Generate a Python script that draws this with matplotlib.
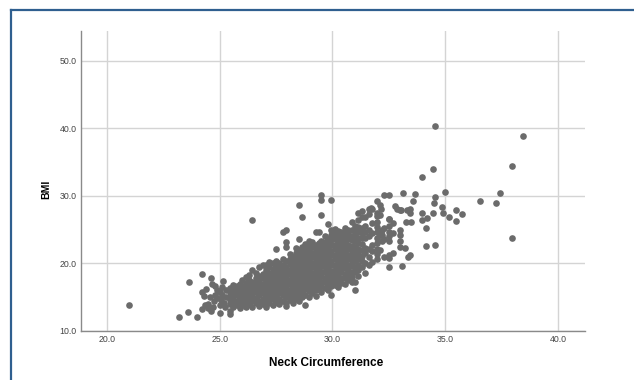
import matplotlib
matplotlib.use('Agg')
import matplotlib.pyplot as plt
from matplotlib.lines import Line2D

# --- 데이터 ---
# 왼쪽 꼬리 (neck < 25.3)
tail_pts = [(21.0, 13.9), (23.2, 12.1), (23.6, 12.8), (24.0, 12.1), (23.65, 17.2), (24.2, 18.5),
            (24.6, 17.9), (24.65, 17.0), (24.2, 15.7), (24.3, 15.2), (24.5, 13.4), (24.2, 13.2),
            (24.35, 13.9), (24.5, 14.0), (24.6, 12.9), (24.7, 13.6), (24.8, 15.4), (24.9, 16.1),
            (24.55, 15.0), (24.75, 14.4), (25.0, 12.6), (25.0, 13.9), (25.05, 14.6), (25.1, 15.3),
            (25.1, 16.5), (25.15, 17.4), (25.0, 15.8), (24.9, 14.9), (24.4, 16.2), (24.8, 16.6),
            (25.2, 14.2), (25.25, 13.5), (25.3, 15.0), (25.3, 16.0)]

# 밀집 구간: neck 값별 BMI 목록
core_a = {25.45: [12.5, 13.0, 14.0, 14.6, 15.2, 15.8, 16.4],
          25.6: [13.5, 14.3, 15.0, 15.6, 16.2, 16.8],
          25.75: [13.8, 14.5, 15.3, 16.0, 16.6],
          25.9: [13.4, 14.2, 14.9, 15.6, 16.3, 17.0],
          26.0: [13.9, 14.6, 15.3, 16.0, 16.7, 17.5],
          26.15: [13.5, 14.3, 15.0, 15.7, 16.4, 17.1, 18.0],
          26.3: [14.0, 14.8, 15.5, 16.2, 16.9, 17.6, 18.3],
          26.45: [13.6, 14.4, 15.2, 15.9, 16.6, 17.3, 19.0, 26.5],
          26.6: [14.1, 14.9, 15.7, 16.4, 17.1, 17.8, 18.6],
          26.75: [13.7, 14.5, 15.3, 16.0, 16.8, 17.5, 18.2, 19.4],
          26.9: [14.0, 14.8, 15.6, 16.3, 17.0, 17.8, 18.5, 19.8]}

core_b = {27.05: [13.6, 14.4, 15.2, 16.0, 16.7, 17.5, 18.2, 19.0, 19.8],
          27.2: [14.1, 14.9, 15.6, 16.4, 17.1, 17.9, 18.6, 19.4, 20.2],
          27.35: [13.9, 14.7, 15.5, 16.2, 17.0, 17.7, 18.5, 19.2, 20.0],
          27.5: [14.3, 15.1, 15.8, 16.6, 17.3, 18.1, 18.8, 19.6, 20.4, 22.2],
          27.65: [14.0, 14.8, 15.6, 16.3, 17.1, 17.8, 18.6, 19.3, 20.1],
          27.8: [14.5, 15.3, 16.0, 16.8, 17.5, 18.3, 19.0, 19.8, 20.6, 24.6],
          27.95: [13.7, 14.2, 15.0, 15.8, 16.5, 17.3, 18.0, 18.8, 19.5, 20.3, 22.5, 23.1, 25.0],
          28.1: [14.6, 15.4, 16.1, 16.9, 17.6, 18.4, 19.1, 19.9, 20.7, 21.4],
          28.25: [14.2, 15.0, 15.7, 16.5, 17.2, 18.0, 18.7, 19.5, 20.2, 21.0],
          28.4: [14.8, 15.6, 16.3, 17.1, 17.8, 18.6, 19.3, 20.1, 20.8, 21.6, 22.3],
          28.5: [14.5, 15.2, 16.0, 16.7, 17.5, 18.2, 19.0, 19.7, 20.5, 21.2, 22.0, 23.6, 28.6],
          28.65: [15.0, 15.8, 16.5, 17.3, 18.0, 18.8, 19.5, 20.3, 21.0, 21.8, 22.5, 26.9],
          28.8: [13.9, 15.4, 16.2, 16.9, 17.7, 18.4, 19.2, 19.9, 20.7, 21.4, 22.2, 22.9],
          28.95: [15.1, 15.9, 16.6, 17.4, 18.1, 18.9, 19.6, 20.4, 21.1, 21.9, 22.6, 23.3]}

core_c = {29.1: [15.6, 16.4, 17.1, 17.9, 18.6, 19.4, 20.1, 20.9, 21.6, 22.4, 23.1],
          29.25: [15.2, 16.0, 16.8, 17.5, 18.3, 19.0, 19.8, 20.5, 21.3, 22.0, 22.8, 24.7],
          29.4: [16.2, 17.0, 17.7, 18.5, 19.2, 20.0, 20.7, 21.5, 22.2, 23.0, 24.7],
          29.5: [15.8, 16.6, 17.3, 18.1, 18.8, 19.6, 20.3, 21.1, 21.8, 22.6, 23.3, 27.1, 29.4, 30.1],
          29.65: [16.4, 17.2, 17.9, 18.7, 19.4, 20.2, 20.9, 21.7, 22.4, 23.2, 24.0],
          29.8: [16.0, 16.8, 17.6, 18.3, 19.1, 19.8, 20.6, 21.3, 22.1, 22.8, 23.6, 25.9],
          29.95: [15.4, 16.6, 17.4, 18.2, 18.9, 19.7, 20.4, 21.2, 21.9, 22.7, 23.4, 24.2, 25.0, 29.4],
          30.1: [16.8, 17.6, 18.3, 19.1, 19.8, 20.6, 21.3, 22.1, 22.8, 23.6, 24.4, 25.1],
          30.25: [16.5, 17.3, 18.0, 18.8, 19.5, 20.3, 21.0, 21.8, 22.5, 23.3, 24.0, 24.8],
          30.4: [17.1, 17.9, 18.7, 19.4, 20.2, 20.9, 21.7, 22.4, 23.2, 23.9, 24.7],
          30.55: [17.0, 17.8, 18.5, 19.3, 20.0, 20.8, 21.5, 22.3, 23.0, 23.8, 24.5, 25.2],
          30.7: [17.5, 18.3, 19.1, 19.8, 20.6, 21.3, 22.1, 22.8, 23.6, 24.3, 25.0],
          30.85: [17.2, 18.0, 18.8, 19.6, 20.4, 21.1, 21.9, 22.6, 23.4, 24.1, 24.9, 26.2],
          31.0: [16.1, 17.2, 18.7, 19.5, 20.3, 21.0, 21.8, 22.5, 23.3, 24.0, 24.8, 25.5]}

upper = {31.15: [18.2, 19.0, 19.8, 20.6, 21.4, 22.2, 23.0, 23.8, 24.6, 25.4, 26.5, 27.5],
         31.3: [19.5, 20.3, 21.1, 22.0, 22.9, 23.7, 24.5, 25.3, 26.9, 27.8],
         31.45: [18.6, 20.0, 21.5, 22.3, 23.8, 24.7, 25.5, 26.8],
         31.6: [19.8, 21.0, 22.2, 24.0, 25.0, 27.3, 28.0],
         31.75: [20.2, 21.8, 22.8, 24.5, 26.0, 28.1],
         31.96: [20.6, 21.4, 22.2, 23.0, 23.8, 24.6, 25.4, 26.2, 27.0, 27.4, 29.2],
         32.1: [22.0, 24.2, 27.2, 28.6],
         32.3: [21.0, 23.6, 25.2, 30.1],
         32.5: [19.5, 20.8, 21.3, 23.3, 24.0, 24.7, 25.5, 26.6, 30.1],
         32.7: [21.5, 24.5, 26.0],
         33.0: [22.5, 23.3, 24.2, 25.0, 27.9],
         33.2: [22.3]}

# 바깥쪽 점
outlier_pts = [(38.45, 38.8), (34.55, 40.4), (37.97, 34.4), (34.45, 34.0), (33.95, 32.8),
               (37.43, 30.4), (37.25, 28.9), (36.54, 29.3), (37.97, 23.8), (35.74, 27.3),
               (35.47, 27.9), (35.47, 26.3), (35.17, 26.9), (34.97, 30.6), (34.86, 28.3),
               (34.9, 27.5), (34.55, 29.8), (34.5, 29.0), (34.45, 27.5), (34.55, 22.8),
               (34.15, 22.6), (34.15, 25.3), (33.97, 27.5), (33.97, 26.5), (34.2, 26.7),
               (33.65, 30.3), (33.15, 30.4), (33.57, 29.2), (33.45, 28.0), (33.45, 27.5),
               (33.3, 27.9), (33.5, 26.1), (33.27, 26.1), (32.86, 28.1), (33.03, 27.9),
               (32.77, 28.5), (33.45, 21.2), (33.36, 20.9), (33.07, 19.6), (32.17, 28.1),
               (31.7, 28.2), (32.5, 26.6), (32.2, 23.3), (32.2, 24.2), (32.2, 25.0)]

neck = [p[0] for p in tail_pts] + [p[0] for p in outlier_pts]
bmi = [p[1] for p in tail_pts] + [p[1] for p in outlier_pts]
for group in (core_a, core_b, core_c, upper):
    for x, ys in group.items():
        neck += [x] * len(ys)
        bmi += ys

X_TICKS = [20.0, 25.0, 30.0, 35.0, 40.0]
Y_TICKS = [10.0, 20.0, 30.0, 40.0, 50.0]

W, H = 634, 380
fig = plt.figure(figsize=(W / 100, H / 100), dpi=100)
ax = fig.add_axes([81 / W, 1 - 331 / H, (585 - 81) / W, (331 - 31) / H])

ax.scatter(neck, bmi, s=23, color='#6b6b6b', linewidths=0, zorder=3)

ax.set_xlim(18.85, 41.2)
ax.set_ylim(10, 54.4)
ax.set_xticks(X_TICKS)
ax.set_yticks(Y_TICKS)
ax.set_xticklabels([f'{v:.1f}' for v in X_TICKS])
ax.set_yticklabels([f'{v:.1f}' for v in Y_TICKS])
ax.tick_params(length=0, labelsize=6.3, labelcolor='#444444', pad=3)
for lab in ax.get_xticklabels() + ax.get_yticklabels():
    lab.set_fontfamily('Liberation Sans')
ax.grid(True, color='#d4d4d4', linewidth=1.0, zorder=0)
ax.set_axisbelow(True)
for side in ('top', 'right'):
    ax.spines[side].set_visible(False)
for side in ('left', 'bottom'):
    ax.spines[side].set_color('#8a8a8a')
    ax.spines[side].set_linewidth(1.0)

fig.text(326 / W, 1 - 363 / H, 'Neck Circumference', ha='center', va='center',
         fontsize=8.5, fontweight='bold', family='Liberation Sans')
fig.text(46 / W, 1 - 189 / H, 'BMI', ha='center', va='center', rotation=90,
         fontsize=7.5, fontweight='bold', family='Liberation Sans')

# 바깥 파란 테두리
fig.add_artist(Line2D([11 / W, 11 / W], [0, 1 - 10 / H], color='#2f5f8f', linewidth=1.6))
fig.add_artist(Line2D([11 / W, 1], [1 - 10 / H, 1 - 10 / H], color='#2f5f8f', linewidth=1.6))

fig.savefig('out.png', dpi=100)
